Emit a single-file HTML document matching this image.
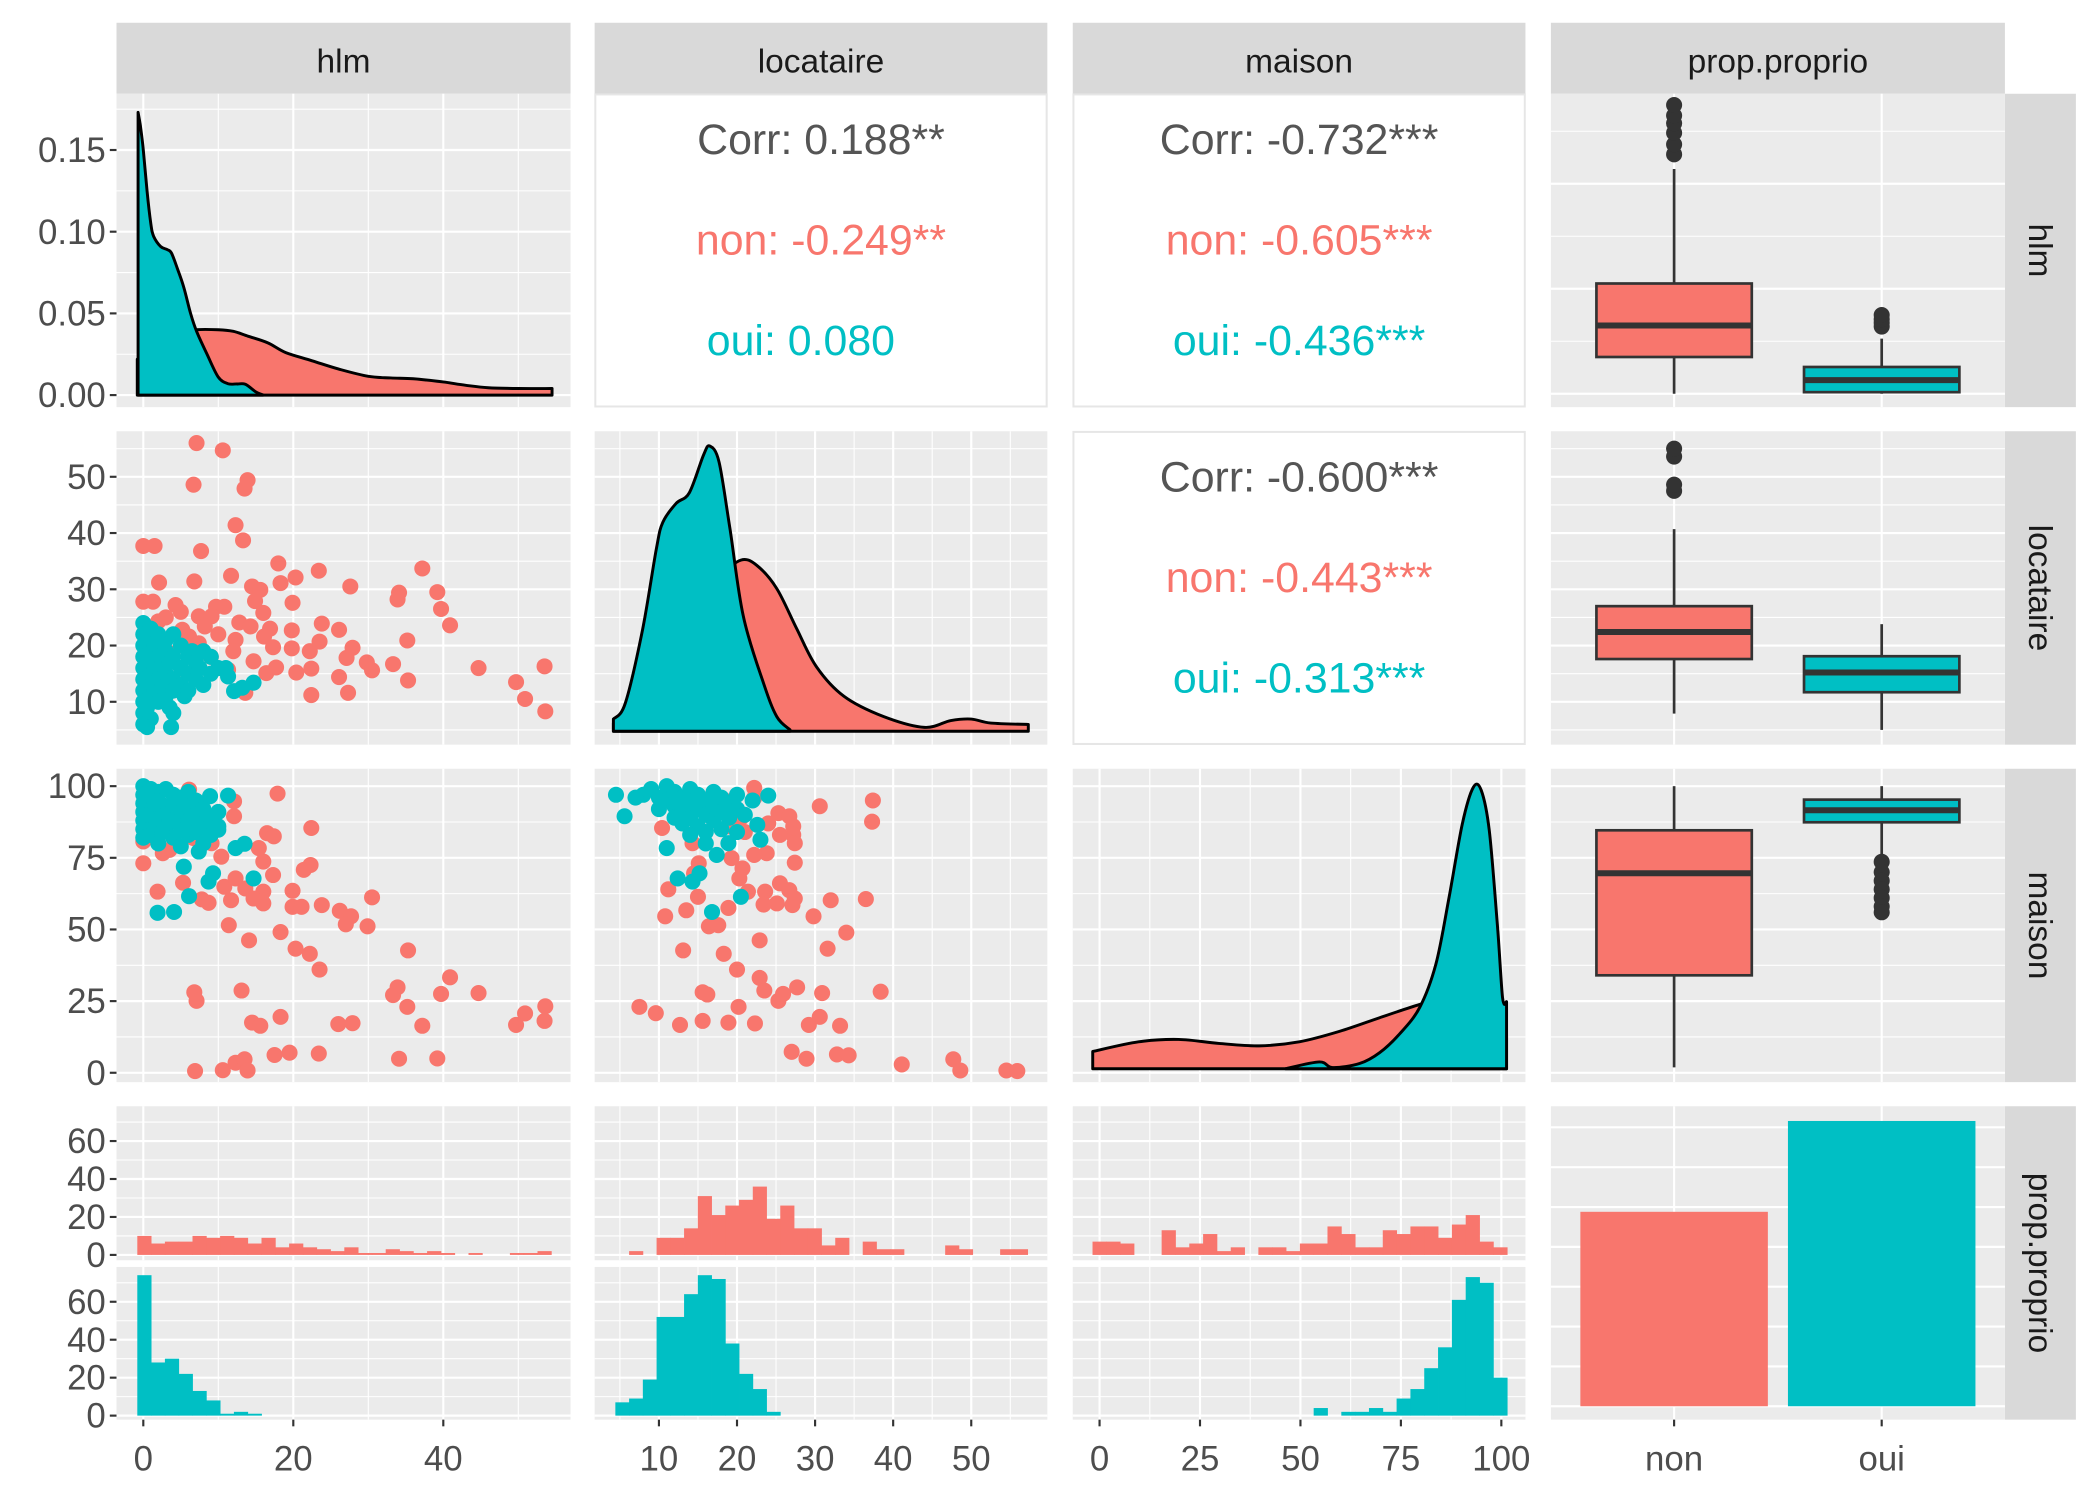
<!DOCTYPE html>
<html><head><meta charset="utf-8"><style>
html,body{margin:0;padding:0;background:#fff;}
svg{display:block;font-family:"Liberation Sans",Arial,sans-serif;}
</style></head><body>
<svg id="chart" width="2100" height="1500" viewBox="0 0 1568 1120" preserveAspectRatio="none" xmlns="http://www.w3.org/2000/svg"></svg>
<script>
// ---------- data ----------
const groups = ["non","oui"];
const barCounts = [122,179];
const hlmBinsNon = [10,6,7,7,10,9,10,9,6,9,4,6,4,3,2,4,1,1,3,2,1,2,1,0,1,0,0,1,1,2];
const hlmBinsOui = [74,28,30,22,13,8,1,2,1,0,0,0,0,0,0,0,0,0,0,0,0,0,0,0,0,0,0,0,0,0];
const locBinsNon = [0,2,0,9,9,14,31,21,26,29,36,19,26,14,14,5,9,0,7,3,3,0,0,0,5,3,0,0,3,3];
const locBinsOui = [7,9,19,52,52,64,74,72,38,22,14,2,0,0,0,0,0,0,0,0,0,0,0,0,0,0,0,0,0,0];
const maiBinsNon = [7,7,6,0,0,13,4,6,11,2,4,0,4,4,2,6,6,15,11,4,4,13,11,15,15,9,16,21,7,4];
const maiBinsOui = [0,0,0,0,0,0,0,0,0,0,0,0,0,0,0,0,4,0,2,2,4,2,9,14,25,36,61,73,70,20];
const hlmDensNon = [[-0.8,0.022],[1,0.028],[3,0.034],[5,0.038],[7,0.040],[10,0.040],[12,0.039],[14,0.036],[16.6,0.032],[19,0.026],[22.5,0.021],[26,0.016],[30,0.0115],[33,0.0105],[36,0.010],[40,0.008],[43,0.006],[46,0.0045],[50,0.004],[54.5,0.004]];
const hlmDensOui = [[-0.7,0.173],[-0.4,0.165],[0,0.15],[0.5,0.125],[1,0.105],[1.4,0.097],[2.3,0.091],[3.2,0.089],[3.75,0.087],[4.5,0.078],[5.4,0.066],[6.3,0.05],[7.1,0.039],[8.5,0.025],[10,0.011],[11.3,0.007],[12.5,0.0068],[13.6,0.0066],[15,0.002],[16,0.0]];
const locDensNon = [[4.17,0.0023],[7.9,0.01],[11.4,0.021],[14.8,0.032],[18.2,0.0436],[20.5,0.048],[22.5,0.0466],[25.1,0.04],[27.7,0.0285],[30.2,0.018],[33.7,0.0098],[38.8,0.0041],[44,0.0011],[47.4,0.003],[50,0.0034],[52.5,0.0023],[57.3,0.0019]];
const locDensOui = [[4.17,0.0034],[5.7,0.0079],[7.9,0.0285],[9.66,0.051],[10.5,0.0586],[12.2,0.0639],[13.9,0.0669],[15.7,0.0774],[16.5,0.08],[17.7,0.0755],[19.1,0.0567],[20.8,0.0323],[23.4,0.0135],[25.1,0.0041],[26.8,0.0004]];
const maiDensNon = [[-1.7,0.0043],[9.7,0.0067],[19.7,0.0073],[29.7,0.0063],[39.7,0.0057],[49.7,0.0067],[59.7,0.0093],[69.7,0.0127],[79.7,0.016],[86.3,0.0177],[93,0.0167],[98,0.0127],[101.3,0.0083]];
const maiDensOui = [[46.3,0],[54.7,0.0017],[58,0.0003],[64.7,0.0013],[69.7,0.004],[74.7,0.0087],[79.7,0.0153],[83.7,0.026],[87,0.0427],[90.3,0.061],[93,0.07],[95,0.0693],[97,0.0593],[99,0.036],[100.3,0.0177],[101.3,0.0167]];
const boxHlm = [[0,7,13,21,42.8],[0,0.3,2.6,5.1,10.5]];
const outHlm = [[45.6,47.5,49.7,51.5,53,55],[12.8,13.5,14.2,15]];
const boxLoc = [[7.9,17.6,22.4,27,40.7],[5,11.7,15.2,18.1,23.8]];
const outLoc = [[47.5,48.6,53.6,55],[]];
const boxMai = [[1.9,34,69.6,84.6,100],[75,87.4,91.6,95.3,100]];
const outMai = [[],[73.6,70,67,64,61,58,56]];
const hlmLocNon = [[7.1,56],[10.6,54.7],[6.7,48.6],[13.9,49.4],[13.5,47.9],[12.3,41.4],[13.3,38.7],[0,37.7],[1.5,37.7],[7.7,36.8],[18,34.6],[23.4,33.3],[37.2,33.7],[11.7,32.4],[2.1,31.2],[6.8,31.4],[18.3,31.1],[20.3,32.1],[27.6,30.5],[34.1,29.4],[33.9,28.2],[39.2,29.5],[39.7,26.5],[40.9,23.6],[14.5,30.5],[15.6,29.9],[14.9,27.9],[19.9,27.6],[0,27.8],[1.3,27.8],[4.3,27.2],[9.7,26.9],[10.8,26.9],[16,25.8],[2,24.3],[7.4,25.2],[12.8,24.1],[14.3,23.4],[16.9,23],[19.8,22.7],[23.8,23.9],[26.1,22.8],[12.3,21],[16.1,21.6],[17.3,19.7],[19.8,19.5],[23.5,20.7],[22.2,19],[27.9,19.6],[27.1,17.8],[35.2,20.9],[14.7,17.2],[17.7,16.1],[16.4,15.1],[20.4,15.2],[22.4,15.9],[29.8,17],[30.5,15.6],[33.3,16.7],[26.1,14.4],[35.3,13.8],[44.7,16],[53.5,16.3],[49.7,13.5],[50.9,10.5],[53.6,8.3],[22.4,11.2],[27.3,11.6],[13.6,11.6],[3.5,18.7],[8.2,23.4],[6.1,21.6],[9.1,25.2],[11.3,15.7],[5.2,22.8],[7.4,20.4],[4.3,13.4],[10,22],[12,19],[9,18],[3,25],[5,26]];
const hlmLocOui = [[0,24],[0,22],[0,20],[0,18],[0,16],[0,14],[0,12],[0,10],[0,8],[0,6],[0.5,21],[0.5,17],[0.5,13],[0.5,9],[1,23],[1,19],[1,15],[1,11],[1,7],[1.5,20],[1.5,16],[1.5,12],[2,22],[2,18],[2,14],[2,10],[2.5,17],[2.5,13],[3,21],[3,19],[3,15],[3,11],[3.5,17],[3.5,9],[4,22],[4,18],[4,14],[4,12],[4,8],[3.7,5.5],[5,20],[5,16],[5,13],[5.5,11],[6,18],[6,15],[6,12],[6.5,19],[7,17],[7,14],[7.5,16],[8,19],[8,13],[9,18],[9,15],[10,16],[11,16],[11.3,14.5],[12.1,11.9],[13.2,12.5],[14.7,13.4],[0.5,5.5]];
const hlmMaiNon = [[17.9,97.4],[22.4,85.4],[16.5,83.6],[17.4,82.5],[12.1,94.7],[12.1,89.5],[22.3,72.5],[21.4,70.8],[16,73.7],[17.3,69],[15.4,78.4],[0,73.1],[0,80.7],[3.5,77.8],[1.9,63.2],[5.3,66.3],[7.8,60.5],[8.7,59.3],[10.8,64.9],[12.3,67.8],[11.7,60.2],[13.6,64.3],[16,63.2],[16,59.1],[14.7,60.8],[19.9,63.5],[19.9,57.9],[21.1,57.9],[23.8,58.5],[26.2,56.5],[27.7,54.6],[27,51.8],[29.9,51.1],[30.5,61.2],[11.4,51.5],[14.1,46.2],[18.3,49.1],[20.3,43.3],[22.2,41.5],[23.5,36],[35.3,42.7],[40.9,33.3],[33.9,29.8],[33.3,27.1],[39.7,27.5],[44.7,27.8],[35.2,23],[37.2,16.4],[53.6,23.2],[53.5,18.1],[50.9,20.7],[49.7,16.7],[6.8,28.1],[7.1,25.1],[13.1,28.7],[14.5,17.5],[15.6,16.4],[18.3,19.5],[26,17],[27.9,17.3],[6.9,0.6],[10.6,0.9],[12.3,3.5],[13.5,4.7],[13.9,0.8],[17.5,6.2],[19.5,7],[23.4,6.7],[34.1,4.9],[39.2,5],[10.4,75.4],[9.1,80.1],[2.6,76.6],[6.1,98.8],[7.4,94.2],[3.9,93],[8.7,86],[6.7,81.9]];
const hlmMaiOui = [[11.3,96.7],[12.3,78.4],[13.5,79.9],[9.3,69.6],[8.7,66.7],[14.7,67.8],[6.1,61.6],[1.9,55.8],[4.1,56.1],[5.4,71.9],[7.4,77.2],[10,84.8],[8.9,96.5],[0,100],[0,97],[0,94],[0,91],[0,88],[0,85],[0,82],[1,99],[1,96],[1,92],[1,89],[1,86],[1,83],[2,98],[2,95],[2,91],[2,87],[2,80],[3,99],[3,93],[3,90],[3,85],[4,97],[4,94],[4,88],[4,82],[5,96],[5,91],[5,86],[5,79],[6,98],[6,93],[6,88],[6,83],[7,95],[7,90],[7,84],[8,92],[8,87],[8,80],[9,89],[9,83],[10,86],[10,91],[0.5,90],[1.5,94],[2.5,84],[3.5,88]];
const locMaiNon = [[22.2,99.4],[22.2,95.9],[30.6,93],[37.4,95],[37.3,87.6],[17,97.7],[18.9,94.7],[17.8,92.4],[20.5,88.9],[25.3,90.6],[26.7,89.5],[27.2,86],[27.2,83],[27.4,80.1],[25.5,83],[23.8,76.6],[22.2,76],[19.3,74.9],[20.7,71.3],[20.3,67.8],[27.4,73.3],[10.4,85.4],[14.3,80.1],[15.1,73.1],[14.5,69.6],[11.2,64],[15,61.4],[13.5,56.7],[10.8,54.6],[16.4,51.1],[17.6,51.5],[18.9,57.5],[21.4,63.2],[23.6,63.2],[25.5,66.1],[26.7,63.7],[27.4,60.8],[25.1,59.1],[23.4,58.7],[27.1,58.5],[29.8,54.6],[32,60.2],[36.5,60.6],[34,48.9],[31.6,43.3],[22.9,46.2],[18.3,41.5],[13.1,42.7],[20,36],[22.9,33.1],[23.5,28.7],[25.3,25.1],[25.9,27.5],[27.7,29.8],[30.9,27.8],[38.4,28.3],[15.6,28.1],[16.2,27.3],[7.5,23],[9.6,20.8],[12.7,16.7],[15.6,18.1],[18.9,17.5],[20.2,23],[22.3,17.2],[29.2,16.7],[30.6,19.5],[33.2,16.4],[27,7.3],[28.9,4.9],[32.8,6.4],[34.3,6.1],[41.1,2.9],[47.7,4.7],[48.6,0.8],[54.5,0.8],[55.9,0.6],[21,84],[24,87],[19,86]];
const locMaiOui = [[4.5,97],[5.6,89.5],[11,78.4],[12.4,67.8],[14.3,66.7],[15.2,69.6],[16.8,56.1],[20.5,61.4],[24,96.7],[22.6,86.5],[23,81.3],[18.9,80.1],[17.4,76],[8,97],[9,99],[10,96],[10,92],[11,100],[11,95],[12,98],[12,93],[12,89],[13,96],[13,91],[13,87],[14,99],[14,94],[14,89],[15,97],[15,92],[15,86],[16,95],[16,90],[16,84],[17,98],[17,93],[17,88],[18,96],[18,91],[18,85],[19,94],[19,89],[20,97],[20,92],[20,84],[21,90],[22,95],[16,80],[14,83],[7,96]];
const corrTexts = [["Corr: 0.188**","non: -0.249**","oui: 0.080"],["Corr: -0.732***","non: -0.605***","oui: -0.436***"],["Corr: -0.600***","non: -0.443***","oui: -0.313***"]];
const varNames = ["hlm","locataire","maison","prop.proprio"];

// ---------- geometry ----------
const RED="#F8766D", TEAL="#00BFC4";
const colX=[[87,426],[444,782],[801,1139],[1158,1497]];
const rowY=[[70,304],[322,556],[574,808],[826,1060]];
const X=[h=>107+h*5.6, l=>492+(l-10)*5.83, m=>821+m*3.0];
const Yr=[d=>295-d*1220, l=>524-(l-10)*4.2, m=>801-m*2.14];
const Yh=h=>294-h*3.92;
const Ytop=c=>937-c*1.417, Ybot=c=>1057-c*1.417;
const Ycnt=c=>1050-c*1.19;
const Yd2=d=>546-d*2662, Yd3=d=>798-d*3000;
const Xg=[1250,1405];
const svg=document.getElementById('chart');
const NS="http://www.w3.org/2000/svg";
function el(tag,attrs,parent){const e=document.createElementNS(NS,tag);for(const k in attrs)e.setAttribute(k,attrs[k]);(parent||svg).appendChild(e);return e;}
function txt(s,attrs,parent){const e=el('text',attrs,parent);e.textContent=s;return e;}
function clipFor(id,x0,y0,x1,y1){const cp=el('clipPath',{id:id});el('rect',{x:x0,y:y0,width:x1-x0,height:y1-y0},cp);return 'url(#'+id+')';}

function panelBg(x0,y0,x1,y1,name){const r=el('rect',{x:x0,y:y0,width:x1-x0,height:y1-y0,fill:'#EBEBEB'});


return r;}
function vgrid(x0,y0,x1,y1,majors,minors,fx){minors.forEach(v=>{const x=fx(v);if(x>x0&&x<x1)el('line',{x1:x,x2:x,y1:y0,y2:y1,stroke:'#fff','stroke-width':0.8});});
majors.forEach(v=>{const x=fx(v);if(x>x0&&x<x1)el('line',{x1:x,x2:x,y1:y0,y2:y1,stroke:'#fff','stroke-width':1.6});});}
function hgrid(x0,y0,x1,y1,majors,minors,fy){minors.forEach(v=>{const y=fy(v);if(y>y0&&y<y1)el('line',{x1:x0,x2:x1,y1:y,y2:y,stroke:'#fff','stroke-width':0.8});});
majors.forEach(v=>{const y=fy(v);if(y>y0&&y<y1)el('line',{x1:x0,x2:x1,y1:y,y2:y,stroke:'#fff','stroke-width':1.6});});}

const xMaj=[[0,20,40],[10,20,30,40,50],[0,25,50,75,100]];
const xMin=[[10,30,50],[5,15,25,35,45,55],[12.5,37.5,62.5,87.5]];
const yMaj=[[0,0.05,0.1,0.15],[10,20,30,40,50],[0,25,50,75,100]];
const yMin=[[0.025,0.075,0.125,0.175],[5,15,25,35,45,55],[12.5,37.5,62.5,87.5]];

// strips
for(let c=0;c<4;c++){const r=el('rect',{x:colX[c][0],y:17,width:colX[c][1]-colX[c][0],height:53,fill:'#D9D9D9'});


txt(varNames[c],{x:(colX[c][0]+colX[c][1])/2,y:54,'text-anchor':'middle','font-size':25,fill:'#1A1A1A'});}
for(let r=0;r<4;r++){const s=el('rect',{x:1497,y:rowY[r][0],width:53,height:rowY[r][1]-rowY[r][0],fill:'#D9D9D9'});


const cy=(rowY[r][0]+rowY[r][1])/2;txt(varNames[r],{x:1515,y:cy,'text-anchor':'middle','font-size':25,fill:'#1A1A1A',transform:'rotate(90 1515 '+cy+')'});}

// correlation text panels
const corrPos=[[0,1],[0,2],[1,2]];
corrPos.forEach((p,i)=>{const [r,c]=p;const x0=colX[c][0],x1=colX[c][1],y0=rowY[r][0],y1=rowY[r][1];
const b=el('rect',{x:x0+0.5,y:y0+0.5,width:x1-x0-1,height:y1-y0-1,fill:'#fff',stroke:'#E6E6E6','stroke-width':1.5});


const cx=(x0+x1)/2;const cols=['#555555',RED,TEAL];const dx=[0,0,(c===1?-15:0)];
corrTexts[i].forEach((t,k)=>txt(t,{x:cx+dx[k],y:y0+45+k*75,'text-anchor':'middle','font-size':32,fill:cols[k]}));});

// smooth path through points (Catmull-Rom)
function smooth(pts){let d='';for(let i=0;i<pts.length-1;i++){const p0=pts[Math.max(0,i-1)],p1=pts[i],p2=pts[i+1],p3=pts[Math.min(pts.length-1,i+2)];
const c1=[p1[0]+(p2[0]-p0[0])/6,p1[1]+(p2[1]-p0[1])/6],c2=[p2[0]-(p3[0]-p1[0])/6,p2[1]-(p3[1]-p1[1])/6];
d+=' C'+c1[0].toFixed(1)+','+c1[1].toFixed(1)+' '+c2[0].toFixed(1)+','+c2[1].toFixed(1)+' '+p2[0].toFixed(1)+','+p2[1].toFixed(1);}return d;}

// density panel helper
function densPanel(c,r,fx,fy,non,oui,name){const x0=colX[c][0],x1=colX[c][1],y0=rowY[r][0],y1=rowY[r][1];
panelBg(x0,y0,x1,y1,name);vgrid(x0,y0,x1,y1,xMaj[c],xMin[c],fx);hgrid(x0,y0,x1,y1,yMaj[r],yMin[r],Yr[r]);
const clip=clipFor('clip-'+name,x0,y0,x1,y1);
[[non,RED,'density-non'],[oui,TEAL,'density-oui']].forEach(([arr,col,nm])=>{
const pts=arr.map(p=>[fx(p[0]),fy(p[1])]);
let d='M'+pts[0][0].toFixed(1)+','+fy(0)+' L'+pts[0][0].toFixed(1)+','+pts[0][1].toFixed(1)+smooth(pts)+' L'+pts[pts.length-1][0].toFixed(1)+','+fy(0)+' Z';
const pth=el('path',{d:d,fill:col,stroke:'#000','stroke-width':2.2,'stroke-linejoin':'round','clip-path':clip});

});}
densPanel(0,0,X[0],Yr[0],hlmDensNon,hlmDensOui,'hlm-density');
densPanel(1,1,X[1],Yd2,locDensNon,locDensOui,'locataire-density');
densPanel(2,2,X[2],Yd3,maiDensNon,maiDensOui,'maison-density');

// scatter panels
function scatter(c,r,non,oui,name){const x0=colX[c][0],x1=colX[c][1],y0=rowY[r][0],y1=rowY[r][1];
panelBg(x0,y0,x1,y1,name);vgrid(x0,y0,x1,y1,xMaj[c],xMin[c],X[c]);hgrid(x0,y0,x1,y1,yMaj[r],yMin[r],Yr[r]);
const clip=clipFor('clip-'+name,x0,y0,x1,y1);const g=el('g',{'clip-path':clip});


non.forEach(p=>{const d=el('circle',{cx:X[c](p[0]),cy:Yr[r](p[1]),r:6,fill:RED},g);

});
oui.forEach(p=>{const d=el('circle',{cx:X[c](p[0]),cy:Yr[r](p[1]),r:6,fill:TEAL},g);

});}
scatter(0,1,hlmLocNon,hlmLocOui,'scatter-hlm-locataire');
scatter(0,2,hlmMaiNon,hlmMaiOui,'scatter-hlm-maison');
scatter(1,2,locMaiNon,locMaiOui,'scatter-locataire-maison');

// boxplot panels
function boxPanel(r,fy,boxes,outs,majors,minors,name){const x0=colX[3][0],x1=colX[3][1],y0=rowY[r][0],y1=rowY[r][1];
panelBg(x0,y0,x1,y1,name);vgrid(x0,y0,x1,y1,Xg.map((v,i)=>i),[],i=>Xg[i]);hgrid(x0,y0,x1,y1,majors,minors,fy);
boxes.forEach((b,i)=>{const cx=Xg[i],w=58,col=i?TEAL:RED;
el('line',{x1:cx,x2:cx,y1:fy(b[0]),y2:fy(b[1]),stroke:'#333','stroke-width':2});
el('line',{x1:cx,x2:cx,y1:fy(b[3]),y2:fy(b[4]),stroke:'#333','stroke-width':2});
const bx=el('rect',{x:cx-w,y:fy(b[3]),width:2*w,height:fy(b[1])-fy(b[3]),fill:col,stroke:'#333','stroke-width':2});


el('line',{x1:cx-w,x2:cx+w,y1:fy(b[2]),y2:fy(b[2]),stroke:'#333','stroke-width':4.5});
outs[i].forEach(v=>{const o=el('circle',{cx:cx,cy:fy(v),r:6,fill:'#333'});

});});}
boxPanel(0,Yh,boxHlm,outHlm,[0,20,40],[10,30,50],'box-hlm');
boxPanel(1,Yr[1],boxLoc,outLoc,yMaj[1],yMin[1],'box-locataire');
boxPanel(2,Yr[2],boxMai,outMai,yMaj[2],yMin[2],'box-maison');

// histogram panels (row 4)
const histSpec=[[hlmBinsNon,hlmBinsOui,-0.8,1.84],[locBinsNon,locBinsOui,4.42,1.76],[maiBinsNon,maiBinsOui,-1.75,3.44]];
for(let c=0;c<3;c++){const [bn,bo,st,bw]=histSpec[c];const x0=colX[c][0],x1=colX[c][1];
[[826,941,Ytop,bn,RED,'non'],[946,1060,Ybot,bo,TEAL,'oui']].forEach(([y0,y1,fy,bins,col,g])=>{
panelBg(x0,y0,x1,y1,'hist-'+varNames[c]+'-'+g);vgrid(x0,y0,x1,y1,xMaj[c],xMin[c],X[c]);hgrid(x0,y0,x1,y1,[0,20,40,60],[10,30,50,70],fy);
bins.forEach((n,i)=>{if(!n)return;const xa=X[c](st+i*bw),xb=X[c](st+(i+1)*bw);
const b=el('rect',{x:xa,y:fy(n),width:xb-xa+0.3,height:fy(0)-fy(n),fill:col});

});});}

// bar panel
{const x0=colX[3][0],x1=colX[3][1],y0=rowY[3][0],y1=rowY[3][1];panelBg(x0,y0,x1,y1,'bar-panel');
vgrid(x0,y0,x1,y1,[0,1],[],i=>Xg[i]);hgrid(x0,y0,x1,y1,[0,25,50,75,100,125,150,175],[],Ycnt);
barCounts.forEach((n,i)=>{const b=el('rect',{x:Xg[i]-70,y:Ycnt(n),width:140,height:Ycnt(0)-Ycnt(n),fill:i?TEAL:RED});

});}

// axes: y ticks
function yTick(y,label){el('line',{x1:82,x2:87,y1:y,y2:y,stroke:'#333','stroke-width':1.6});txt(label,{x:79,y:y+9,'text-anchor':'end','font-size':26,fill:'#4D4D4D'});}
["0.00","0.05","0.10","0.15"].forEach((t,i)=>yTick(Yr[0](yMaj[0][i]),t));
yMaj[1].forEach(v=>yTick(Yr[1](v),String(v)));
yMaj[2].forEach(v=>yTick(Yr[2](v),String(v)));
[0,20,40,60].forEach(v=>{yTick(Ytop(v),String(v));yTick(Ybot(v),String(v));});
// x ticks
function xTick(x,label){el('line',{x1:x,x2:x,y1:1060,y2:1065,stroke:'#333','stroke-width':1.6});txt(label,{x:x,y:1098,'text-anchor':'middle','font-size':26,fill:'#4D4D4D'});}
for(let c=0;c<3;c++)xMaj[c].forEach(v=>xTick(X[c](v),String(v)));
groups.forEach((g,i)=>xTick(Xg[i],g));
</script>
</body></html>
